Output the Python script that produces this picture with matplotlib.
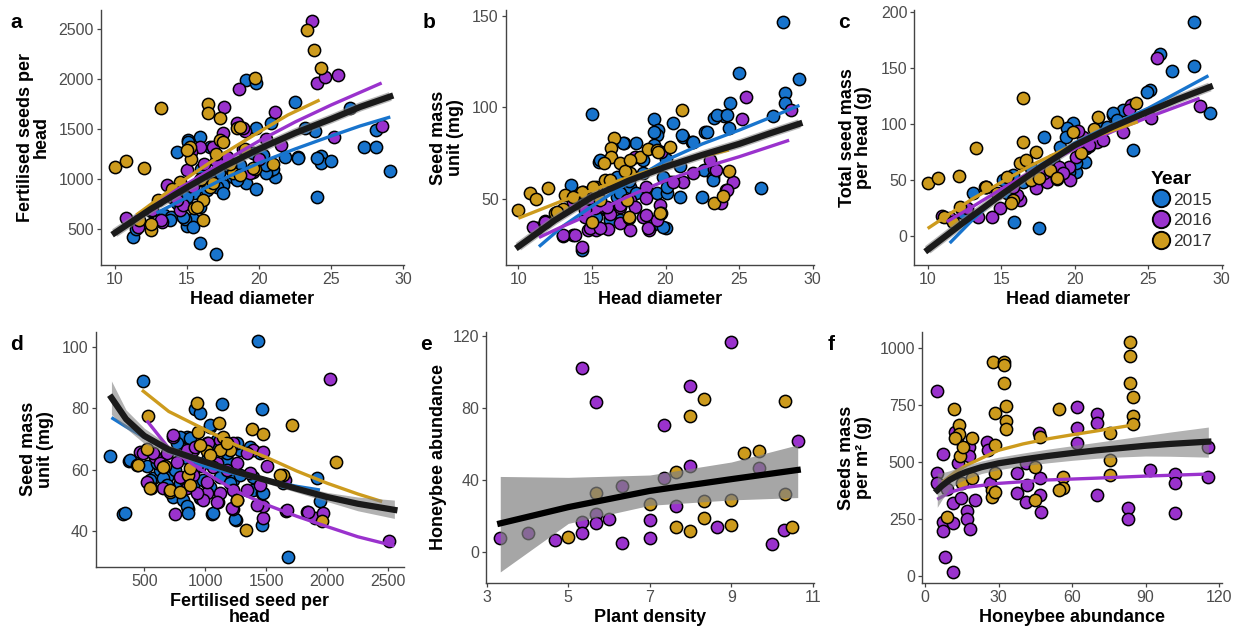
import matplotlib
matplotlib.use("Agg")
import matplotlib.pyplot as plt
from matplotlib.lines import Line2D

plt.rcParams['font.family'] = ['Liberation Sans', 'DejaVu Sans']

C15 = '#1874CD'
C16 = '#9A32CD'
C17 = '#CD9B1D'
YEARS = ['2015', '2016', '2017']

# ---- panel a: head diameter vs fertilised seeds per head
A_X15 = [29.1, 27.3, 28.1, 28.1, 26.3, 22.5, 24.0, 24.3, 24.3, 25.0, 22.7, 21.8, 23.9, 23.2, 19.1, 19.8, 19.8, 20.8,
         15.9, 15.1, 14.3, 15.9, 17.0, 11.3, 15.0, 15.4, 14.9, 13.4, 13.9, 16.4, 17.0, 18.2, 19.1, 19.8, 20.4, 21.1,
         20.7, 19.6, 20.3, 17.8, 18.7, 17.2, 16.6, 15.5, 14.7, 16.0, 17.5, 21.0, 12.5, 11.5,
         15.1, 16.6, 18.0, 18.5, 20.5, 20.5, 22.7, 24.0, 13.8, 14.7, 15.4, 15.9, 17.1, 17.5, 15.9, 15.0, 14.3]
A_Y15 = [1083, 1323, 1323, 1490, 1707, 1773, 823, 1230, 1163, 1183, 1217, 1223, 1483, 1507, 1990, 1963, 1507, 1557,
         1423, 1390, 1273, 357, 250, 423, 533, 600, 600, 640, 620, 890, 990, 1023, 957, 897, 1107, 1023,
         1080, 1257, 1240, 1123, 1140, 1060, 1000, 857, 800, 1100, 940, 1100, 680, 500,
         1373, 1323, 1123, 990, 1057, 1140, 1207, 1207, 590, 623, 523, 723, 923, 857, 990, 823, 757]
A_X16 = [23.7, 24.0, 24.6, 25.5, 18.6, 17.6, 21.1, 18.6, 19.0, 28.5, 25.2, 21.5, 16.8, 15.9, 15.3, 13.6, 13.3, 12.6,
         11.6, 10.8, 14.5, 14.7, 14.0, 15.0, 19.6, 17.8, 18.9, 16.2, 14.2, 20.5,
         17.5, 18.5, 18.9, 19.4, 15.4, 14.3, 13.2, 17.0, 20.0]
A_Y16 = [2583, 1963, 2017, 2040, 1897, 1723, 1673, 1523, 1480, 1530, 1423, 1340, 1323, 1323, 1273, 940, 573, 690,
         523, 607, 690, 740, 823, 1090, 1073, 1223, 1300, 1150, 880, 1400,
         1457, 1557, 1507, 1057, 923, 790, 590, 1180, 1200]
A_X17 = [10.0, 10.8, 12.0, 13.2, 12.5, 12.5, 16.5, 16.5, 17.3, 19.7, 23.3, 23.8, 24.3, 21.0, 19.7, 18.5, 15.2, 15.3,
         16.1, 15.5, 16.6, 18.2, 18.7, 17.3, 14.5, 13.0, 11.7, 16.0, 17.0,
         15.0, 17.5, 18.7, 19.6, 16.8, 16.1, 15.7, 14.0, 18.0, 19.0]
A_Y17 = [1123, 1180, 1113, 1713, 490, 550, 1750, 1663, 1607, 2007, 2490, 2290, 2113, 1150, 1097, 1507, 1323, 1197,
         790, 707, 923, 1057, 1040, 1390, 973, 790, 590, 1000, 1250,
         1290, 1373, 1523, 1107, 957, 590, 723, 900, 1150, 1300]
A_FX15 = [12.9, 15, 17.5, 20, 22.5, 25, 27, 29.1]
A_FY15 = [660, 815, 1000, 1160, 1300, 1430, 1530, 1620]
A_FX16 = [11.3, 13, 15, 17.5, 20, 22.5, 25, 28.5]
A_FY16 = [600, 790, 950, 1170, 1380, 1570, 1740, 1960]
A_FX17 = [11.5, 13, 15, 17.5, 20, 22, 24.2]
A_FY17 = [640, 800, 1010, 1250, 1470, 1640, 1790]
A_FXALL = [10, 12.5, 15, 17.5, 20, 22.5, 25, 27, 29.1]
A_FYALL = [460, 700, 915, 1120, 1300, 1460, 1600, 1720, 1825]

# ---- panel b: head diameter vs seed mass unit
B_X15 = [28.0, 29.1, 25.0, 28.1, 28.1, 27.3, 24.4, 24.0, 23.3, 26.5, 24.3, 22.7, 22.5, 21.0, 20.3, 21.2, 21.8, 20.5,
         19.2, 19.5, 19.4, 18.0, 17.2, 15.0, 15.5, 13.6, 20.0, 19.2, 16.9, 16.2, 14.3, 15.0, 16.0, 16.7, 17.6, 18.5,
         19.4, 20.1, 22.6, 23.2, 18.5, 16.7, 15.3, 14.6, 13.9,
         19.2, 22.8, 23.5, 24.2, 17.1, 19.2, 21.1, 21.9, 15.55, 19.85, 23.2, 20.1, 18.0, 16.9, 16.0, 19.85, 14.65,
         15.3, 16.2, 21.0, 20.0, 17.5]
B_Y15 = [146.7, 115.5, 118.5, 108, 102.5, 95, 102.5, 95.3, 94, 55.8, 88.5, 86.7, 51.3, 51.3, 59, 84, 81.3, 91.6,
         93.6, 87.6, 85, 80.4, 80.4, 96.2, 70.4, 57.6, 34, 36.4, 38.5, 39.5, 22.2, 41.3, 45, 51, 56.7, 64,
         53, 53, 65.8, 62.2, 71.3, 62, 51.3, 49.5, 47.6,
         86.7, 86.7, 95.8, 95.8, 80.4, 79.5, 85, 81.3, 71.3, 62.2, 60.4, 56.7, 53, 53, 44, 34.9, 47.6,
         40.3, 38.5, 68, 72, 60]
B_X16 = [25.5, 25.2, 28.5, 23.8, 24.1, 24.6, 23.3, 21.2, 17.9, 19.7, 14.3, 13.7, 13.0, 11.3, 11.8, 13.7, 14.5, 14.7,
         15.3, 16.1, 17.6, 18.5, 18.9, 19.6, 19.6, 16.2, 16.9, 15.8, 17.6, 18.7, 21.9,
         11.0, 11.8, 13.05, 13.85, 14.9, 15.55, 16.9, 18.8, 19.4, 18.7, 17.95, 16.9, 16.0, 15.2, 14.5, 14.9, 18.7,
         20.5, 23.4, 23.0, 24.2]
B_Y16 = [105.8, 93.6, 98.5, 48, 54.9, 59.5, 66.2, 59, 73, 75.8, 24, 30.4, 29.8, 34, 38, 48.5, 40.4, 33,
         33, 33.5, 33, 40.4, 33, 46.7, 42, 42, 45.8, 45.8, 49.5, 56.7, 64,
         34.9, 37.6, 30.4, 30.4, 34, 34, 36.7, 34, 38.5, 41.3, 45.8, 46.7, 45.8, 44.9, 44, 50.4, 50.4,
         59.4, 65.8, 71.3, 54.9]
B_X17 = [10.0, 10.8, 11.2, 12.0, 12.5, 13.0, 13.2, 21.1, 16.5, 16.3, 16.3, 16.9, 17.6, 18.3, 18.8, 19.4, 20.3, 17.5,
         17.4, 15.0, 19.7, 23.3, 23.9, 24.3, 15.3, 15.9, 14.4,
         17.25, 17.6, 19.5, 15.8, 16.2, 15.1, 14.3, 13.7, 12.6, 17.5, 19.6, 15.55]
B_Y17 = [44, 53, 49.8, 55.8, 42.2, 44.4, 52.2, 98.5, 83, 77.6, 73, 69.5, 64, 73, 77, 76.7, 78.5, 39.5,
         49.5, 37.6, 42.2, 48, 51.6, 65, 56.7, 60.4, 54,
         65, 71.3, 75.8, 69.5, 60.4, 56.7, 54, 51.3, 43, 40.3, 42.2, 49.5]
B_FX15 = [11.4, 13, 15, 17.5, 20, 22.5, 25, 27, 29.1]
B_FY15 = [24, 35, 46, 59, 71, 80, 87.5, 94, 101]
B_FX16 = [11.4, 13, 15, 17.5, 20, 22.5, 25, 28.4]
B_FY16 = [29, 35, 42, 51.5, 60, 67, 73, 82]
B_FX17 = [10, 13, 17, 20.5, 24.3]
B_FY17 = [39.5, 49, 60.5, 69.5, 76.7]
B_FXALL = [10, 12.5, 15, 17.5, 20, 22.5, 25, 27, 29.1]
B_FYALL = [24, 38.5, 51, 60, 67.5, 74, 80, 85.5, 91]

# ---- panel c: head diameter vs total seed mass per head
C_X15 = [28.1, 28.1, 25.8, 26.6, 25.1, 29.2, 24.0, 17.9, 15.9, 17.6, 22.6, 23.3, 19.9, 19.5, 20.7, 20.1, 19.6, 22.6,
         24.9, 13.1, 13.9, 15.1, 15.8, 17.0, 18.5, 19.0, 20.8, 21.7, 22.9, 20.1, 12.4, 19.4, 22.2, 18.1, 21.0, 16.5,
         15.4, 14.0]
C_Y15 = [191, 152, 162, 147, 130, 109.5, 76.9, 88.7, 13, 7.1, 108, 112.5, 100.6, 96.2, 66.4, 57.5, 57.5, 109.5,
         128.8, 38.3, 44.2, 50.1, 54.6, 60.5, 68, 79.8, 78.4, 96.2, 103.6, 65, 20.5, 88.7, 97.7, 53, 80, 48.7,
         38.3, 44]
C_X16 = [25.6, 25.2, 28.5, 23.8, 23.3, 21.5, 19.7, 19.6, 18.9, 17.4, 18.1, 16.3, 16.1, 14.9, 14.4, 13.4, 12.7, 11.5,
         11.0, 20.1, 20.6, 21.9, 21.0, 19.2, 15.8, 17.9, 20.2, 23.7]
C_Y16 = [158.5, 105, 116, 116.9, 93.1, 84.2, 50.1, 62, 62, 42.7, 48.6, 32.3, 36.8, 24.9, 17.5, 17.5, 24.9, 16,
         18, 70.9, 88.7, 85.8, 81.3, 56.1, 44.2, 56.1, 94, 112.5]
C_X17 = [10.0, 10.7, 12.1, 13.3, 16.5, 16.5, 18.8, 18.8, 21.6, 24.2, 17.4, 16.3, 17.0, 15.4, 15.8, 17.6, 18.3, 18.8,
         19.9, 20.4, 14.0, 11.1, 12.2, 14.7, 16.7, 15.7, 11.7, 21.3]
C_Y17 = [47.8, 51.6, 53.7, 78.4, 122.9, 84.2, 102, 50.8, 106.5, 118.4, 75.3, 65, 50.1, 53.1, 32.3, 51.6, 59, 51.6,
         93.1, 73.9, 44.2, 17.5, 26.4, 38.3, 68, 29.4, 13, 96]
C_FX15 = [11.5, 13, 15, 17.5, 20, 22.5, 25, 29.1]
C_FY15 = [-6, 14, 38, 62, 83, 99, 114, 143]
C_FX16 = [11.3, 13, 15, 17.5, 20, 22.5, 25, 28.5]
C_FY16 = [13, 26, 42, 61, 78, 93, 106, 123]
C_FX17 = [10, 13, 17, 20.5, 24.3]
C_FY17 = [7, 33, 63, 85, 102]
C_FXALL = [10, 12.5, 15, 17.5, 20, 22.5, 25, 27, 29.2]
C_FYALL = [-12, 13, 37, 60, 81, 97, 111, 122, 133]

# ---- panel d: fertilised seed per head vs seed mass unit
D_X15 = [1434, 492, 219, 328, 377, 1467, 1134, 915, 956, 1038, 1680, 1913, 1940, 1462, 1249, 1057, 860, 956,
         738, 574, 519, 628, 792, 1011, 1230, 1393, 1462, 847, 1093, 1284, 1448, 1175, 683, 902, 1639, 800,
         1039, 793, 875, 766, 602, 383, 656, 752, 834, 902, 984, 738, 820, 848, 957, 1039, 1120, 1202,
         1284, 1366, 1257, 1066, 1175, 1393, 1475, 342, 861, 1066, 1243, 684, 848, 1011, 547]
D_Y15 = [102, 89, 64.5, 45.3, 62.9, 79.8, 81.4, 79.8, 78.4, 74, 31.5, 57.3, 49.7, 42, 43.5, 45.5, 47, 50.6,
         52.8, 57.1, 61, 60, 55.5, 55.5, 56.6, 53.3, 52.2, 70.8, 69.7, 66.4, 65.3, 63.1, 57.7, 60, 55.5, 67,
         74.6, 70.7, 70.2, 68.6, 62, 63.1, 57.1, 59.9, 56.6, 54.9, 56.6, 51.1, 50, 47.9, 51.1, 54.4, 57.7, 55.5,
         58.2, 67.5, 68.6, 67.5, 65.3, 57.7, 52.2, 45.7, 45.7, 45.7, 43.7, 54.9, 63.7, 63.1, 56.6]
D_X16 = [2022, 2508, 751, 1107, 1230, 1658, 1836, 1899, 1967, 1475, 1475, 464, 587, 738, 902, 1011, 1230, 1393,
         1475, 956, 1093, 792, 1011, 1230, 1366, 1503, 519, 850,
         738, 492, 574, 684, 848, 916, 1025, 1120, 1339, 629, 766, 929, 1066, 1175, 1257, 656, 902, 1011, 1120,
         1339, 1448, 984, 1093, 1216, 1421, 1667, 1844, 1653, 929]
D_Y16 = [89.5, 36.6, 45.5, 49.3, 47, 46.4, 46.2, 44, 45.7, 44, 47.9, 65.8, 64.2, 70.8, 66.4, 68.6, 68.6, 66.4,
         65.8, 61, 62, 57.7, 52.2, 53.3, 58.8, 61, 56, 54,
         71.3, 65.3, 65.3, 65.3, 66.4, 67.5, 68.6, 69.7, 65.3, 62, 62.6, 61.5, 60.9, 59.9, 62, 53.9, 58.2, 56, 52.2,
         53.3, 54.9, 50, 49.5, 47.3, 48.4, 46.8, 46.2, 56.6, 52.2]
D_X17 = [533, 929, 1115, 1380, 1470, 1708, 2068, 1953, 1331, 437, 557, 710, 669, 861, 1148, 1202, 1257, 1639,
         1010, 519, 943, 957, 1120, 1175, 1039, 451, 656, 547, 711, 793, 875, 1257, 1612, 875]
D_Y17 = [77.5, 81.9, 75.1, 73.3, 71.6, 74.6, 62.4, 43.2, 40.2, 61.5, 54, 52.8, 61, 58.2, 70.8, 66.4, 50, 58.2,
         66, 66.6, 72.4, 68, 66.4, 68.6, 64.8, 61.5, 60.9, 53.9, 53.3, 52.8, 54.9, 50, 58.2, 60.4]
D_FX15 = [230, 350, 500, 700, 1000, 1250, 1500, 1750, 1940]
D_FY15 = [77, 74, 70.5, 66, 61, 58.5, 56.5, 54.5, 53.3]
D_FX16 = [520, 700, 1000, 1250, 1500, 1750, 2000, 2250, 2550]
D_FY16 = [76, 67, 59, 53, 48.5, 44.7, 41.3, 38, 35]
D_FX17 = [480, 700, 1000, 1250, 1500, 1750, 2000, 2250, 2450]
D_FY17 = [86, 79, 73, 68, 64, 59.5, 55.5, 52, 49.5]
D_FXALL = [230, 350, 500, 700, 1000, 1250, 1500, 1750, 2000, 2250, 2550]
D_FYALL = [83.5, 76.5, 71, 66.5, 62.5, 59.3, 56.5, 53.7, 51, 48.8, 46.8]
D_LO = [78, 73.5, 68.5, 65, 61.5, 58.3, 55.5, 52.5, 49.5, 46.5, 44]
D_HI = [89, 79.5, 73.5, 68, 63.5, 60.3, 57.5, 54.8, 52.5, 51, 50]

# ---- panel e: plant density vs honeybee abundance
E_X16 = [3.33, 4.0, 4.68, 5.33, 5.67, 5.33, 5.33, 5.67, 5.67, 6.0, 6.31, 6.31, 7.0, 7.0, 7.34, 7.34, 7.65, 7.99,
         7.99, 8.64, 8.99, 9.67, 9.99, 10.3, 10.63]
E_Y16 = [8.1, 10.9, 6.8, 102, 83.1, 16.6, 10.9, 21, 16.1, 18.3, 36.9, 5, 17.9, 7.8, 70.5, 41.4, 25.9, 92.2,
         47.8, 13.9, 116.3, 46.5, 4.4, 12.4, 61.9]
E_X17 = [5.0, 5.67, 7.0, 7.65, 7.65, 7.99, 7.99, 8.32, 8.32, 8.32, 8.99, 8.99, 9.32, 9.67, 10.32, 10.32, 10.5]
E_Y17 = [8.7, 32.7, 26.8, 44.7, 13.9, 75.5, 12, 84.8, 28.6, 18.8, 29, 15.1, 55.2, 56.3, 83.8, 32.3, 14.2]
E_FX = [3.33, 5, 7, 9, 10.63]
E_FY = [16, 25, 34, 40.5, 45.6]
E_LO = [-10.9, 16, 26, 29, 30.3]
E_HI = [42, 41.5, 42.8, 50, 59.5]

# ---- panel f: honeybee abundance vs seeds mass per m2
F_X16 = [4.8, 4.8, 4.8, 7.5, 7.5, 7.5, 8.2, 11.3, 11.3, 11.3, 12.2, 12.9, 13.6, 17.0, 17.0, 18.4, 20.4, 18.1,
         18.1, 25.4, 25.9, 26.5, 37.4, 37.4, 41.2, 41.5, 41.1, 46.5, 46.9, 46.9, 47.3, 61.9, 61.9, 61.9, 70.1, 70.1,
         70.1, 91.8, 101.8, 101.8, 101.8, 115.6, 115.6, 83.0, 83.0, 9.0, 14.5]
F_Y16 = [811, 449, 405, 534, 237, 197, 83, 15, 232, 317, 632, 602, 493, 284, 251, 203, 332, 566,
         526, 585, 551, 405, 449, 361, 493, 398, 325, 624, 427, 354, 278, 741, 646, 580, 709, 668,
         354, 463, 444, 405, 273, 566, 434, 298, 251, 380, 340]
F_X17 = [12.0, 14.0, 14.0, 14.3, 12.2, 15.6, 19.0, 15.2, 8.8, 27.9, 32.4, 32.4, 32.4, 32.9, 32.9, 32.9, 28.6, 28.6,
         28.6, 27.2, 27.2, 28.6, 19.0, 46.9, 44.9, 44.9, 54.8, 56.2, 56.2, 54.8, 75.5, 75.5, 75.5, 83.7, 83.7, 83.7,
         84.8, 84.8, 84.8]
F_Y17 = [730, 661, 621, 526, 602, 566, 602, 405, 256, 939, 939, 924, 844, 744, 680, 643, 712, 573,
         449, 376, 346, 368, 427, 610, 478, 332, 730, 434, 383, 376, 624, 507, 441, 1023, 963, 846,
         782, 700, 665]
F_FX16 = [5, 10, 17, 30, 50, 70, 90, 115.6]
F_FY16 = [335, 365, 388, 405, 420, 428, 437, 446]
F_FX17 = [7, 12, 17, 24, 30, 40, 50, 60, 70, 84.4]
F_FY17 = [410, 452, 485, 520, 550, 578, 600, 618, 635, 660]
F_FXALL = [5, 7, 10, 14, 17, 23, 30, 40, 50, 60, 70, 80, 90, 100, 115.6]
F_FYALL = [375, 395, 420, 443, 456, 476, 493, 510, 525, 538, 550, 560, 570, 578, 588]
F_LO = [300, 335, 380, 410, 425, 448, 465, 482, 495, 506, 515, 521, 525, 524, 520]
F_HI = [450, 452, 460, 476, 485, 503, 520, 538, 555, 570, 585, 600, 615, 630, 652]

W, H = 1243, 641
fig = plt.figure(figsize=(W / 100, H / 100), dpi=100)


def make_ax(l, r, t, b):
    ax = fig.add_axes([l / W, 1 - b / H, (r - l) / W, (b - t) / H])
    for s in ['top', 'right']:
        ax.spines[s].set_visible(False)
    for s in ['left', 'bottom']:
        ax.spines[s].set_color('#444444')
        ax.spines[s].set_linewidth(1.0)
    ax.tick_params(direction='out', length=3, width=0.9, color='#444444',
                   labelcolor='#4d4d4d', labelsize=11.5, pad=2)
    return ax


def dots(ax, x, y, c):
    ax.scatter(x, y, s=78, c=c, edgecolors='black', linewidths=1.1, zorder=2)


def labels(ax, xl, yl, xpad=3, ypad=6):
    ax.set_xlabel(xl, fontsize=13, fontweight='bold', labelpad=xpad)
    ax.set_ylabel(yl, fontsize=13, fontweight='bold', labelpad=ypad, linespacing=0.95)


def year_fits(ax, fits):
    for (fx, fy), c in zip(fits, (C15, C16, C17)):
        if fx:
            ax.plot(fx, fy, color=c, lw=2.4, zorder=4, solid_capstyle='butt')


# a
ax = make_ax(101, 404, 10, 265)
dots(ax, A_X15, A_Y15, C15)
dots(ax, A_X16, A_Y16, C16)
dots(ax, A_X17, A_Y17, C17)
ax.plot(A_FXALL, A_FYALL, color='#888888', lw=6.5, alpha=0.6, zorder=3, solid_capstyle='butt')
year_fits(ax, [(A_FX15, A_FY15), (A_FX16, A_FY16), (A_FX17, A_FY17)])
ax.plot(A_FXALL, A_FYALL, color='#1a1a1a', lw=4.5, zorder=5)
ax.set_xlim(9.05, 30.05)
ax.set_ylim(140, 2690)
ax.set_xticks([10, 15, 20, 25, 30])
ax.set_yticks([500, 1000, 1500, 2000, 2500])
labels(ax, 'Head diameter', 'Fertilised seeds per\nhead')

# b
ax = make_ax(505.7, 814, 10, 265)
dots(ax, B_X15, B_Y15, C15)
dots(ax, B_X16, B_Y16, C16)
dots(ax, B_X17, B_Y17, C17)
ax.plot(B_FXALL, B_FYALL, color='#888888', lw=6.5, alpha=0.6, zorder=3, solid_capstyle='butt')
year_fits(ax, [(B_FX15, B_FY15), (B_FX16, B_FY16), (B_FX17, B_FY17)])
ax.plot(B_FXALL, B_FYALL, color='#1a1a1a', lw=4.5, zorder=5)
ax.set_xlim(9.14, 30.09)
ax.set_ylim(14, 153)
ax.set_xticks([10, 15, 20, 25, 30])
ax.set_yticks([50, 100, 150])
labels(ax, 'Head diameter', 'Seed mass\nunit (mg)')

# c
ax = make_ax(914.3, 1222.7, 10, 265)
dots(ax, C_X15, C_Y15, C15)
dots(ax, C_X16, C_Y16, C16)
dots(ax, C_X17, C_Y17, C17)
ax.plot(C_FXALL, C_FYALL, color='#888888', lw=6.5, alpha=0.6, zorder=3, solid_capstyle='butt')
year_fits(ax, [(C_FX15, C_FY15), (C_FX16, C_FY16), (C_FX17, C_FY17)])
ax.plot(C_FXALL, C_FYALL, color='#1a1a1a', lw=4.5, zorder=5)
ax.set_xlim(9.09, 30.07)
ax.set_ylim(-25.5, 201.5)
ax.set_xticks([10, 15, 20, 25, 30])
ax.set_yticks([0, 50, 100, 150, 200])
labels(ax, 'Head diameter', 'Total seed mass\nper head (g)')
handles = [Line2D([], [], marker='o', ls='', markersize=12.5, markerfacecolor=c,
                  markeredgecolor='black', markeredgewidth=1.4) for c in (C15, C16, C17)]
leg = ax.legend(handles, YEARS, title='Year', loc='upper left', bbox_to_anchor=(0.745, 0.395),
                frameon=False, fontsize=12.5, handletextpad=0.05, labelspacing=0.32,
                borderaxespad=0, handlelength=1.2)
leg.get_title().set_fontweight('bold')
leg.get_title().set_fontsize(14)
leg._legend_box.align = 'left'
leg._legend_box.sep = 3
for t in leg.get_texts():
    t.set_color('#333333')

# d
ax = make_ax(95.7, 404, 331.7, 566.7)
dots(ax, D_X15, D_Y15, C15)
dots(ax, D_X16, D_Y16, C16)
dots(ax, D_X17, D_Y17, C17)
year_fits(ax, [(D_FX15, D_FY15), (D_FX16, D_FY16), (D_FX17, D_FY17)])
ax.fill_between(D_FXALL, D_LO, D_HI, color='#808080', alpha=0.6, lw=0, zorder=5)
ax.plot(D_FXALL, D_FYALL, color='#1a1a1a', lw=4.5, zorder=6)
ax.set_xlim(101, 2629)
ax.set_ylim(28.2, 105.1)
ax.set_xticks([500, 1000, 1500, 2000, 2500])
ax.set_yticks([40, 60, 80, 100])
labels(ax, 'Fertilised seed per\nhead', 'Seed mass\nunit (mg)')
ax.xaxis.label.set_linespacing(0.95)

# e
ax = make_ax(486, 814, 331.7, 583.3)
dots(ax, E_X16, E_Y16, C16)
dots(ax, E_X17, E_Y17, C17)
ax.fill_between(E_FX, E_LO, E_HI, color='#808080', alpha=0.7, lw=0, zorder=5)
ax.plot(E_FX, E_FY, color='black', lw=4.5, zorder=6)
ax.set_xlim(2.98, 11.03)
ax.set_ylim(-17.2, 122.2)
ax.set_xticks([3, 5, 7, 9, 11])
ax.set_yticks([0, 40, 80, 120])
labels(ax, 'Plant density', 'Honeybee abundance', ypad=4)

# f
ax = make_ax(922.3, 1222.3, 331.7, 583.3)
dots(ax, F_X16, F_Y16, C16)
dots(ax, F_X17, F_Y17, C17)
year_fits(ax, [([], []), (F_FX16, F_FY16), (F_FX17, F_FY17)])
ax.fill_between(F_FXALL, F_LO, F_HI, color='#808080', alpha=0.6, lw=0, zorder=5)
ax.plot(F_FXALL, F_FYALL, color='#1a1a1a', lw=4.5, zorder=6)
ax.set_xlim(-1.1, 121.3)
ax.set_ylim(-33, 1070)
ax.set_xticks([0, 30, 60, 90, 120])
ax.set_yticks([0, 250, 500, 750, 1000])
labels(ax, 'Honeybee abundance', 'Seeds mass\nper m\u00b2 (g)')

# panel letters
for lab, (px, py) in zip('abcdef', [(10, 28), (423, 28), (838, 28), (10, 350), (420, 350), (828, 350)]):
    fig.text(px / W, 1 - py / H, lab, fontsize=15, fontweight='bold', color='black')

fig.savefig('out.png', dpi=100)
